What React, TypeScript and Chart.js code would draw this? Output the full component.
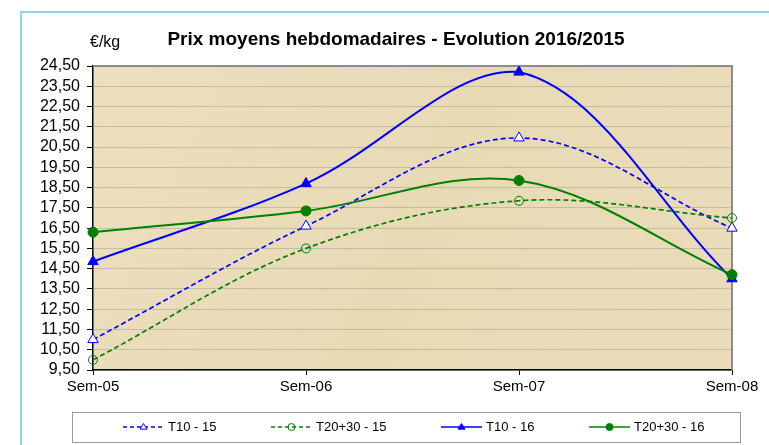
import React, { useEffect, useRef } from "react";
import { Chart, registerables } from "chart.js";

Chart.register(...registerables);

// ---- Data ----
const categories = ["Sem-05", "Sem-06", "Sem-07", "Sem-08"];
const seriesLabels = ["T10 - 15", "T20+30 - 15", "T10 - 16", "T20+30 - 16"];
const t10_15 = [11.0, 16.6, 20.95, 16.5];
const t2030_15 = [10.0, 15.5, 17.85, 17.0];
const t10_16 = [14.85, 18.7, 24.2, 14.0];
const t2030_16 = [16.3, 17.35, 18.85, 14.2];
const yMin = 9.5;
const yMax = 24.5;
const yStep = 1;
const chartTitle = "Prix moyens hebdomadaires - Evolution 2016/2015";
const unitLabel = "€/kg";

const BLUE = "#0000FF";
const GREEN = "#008000";
const FONT = 'Arial, "Liberation Sans", Helvetica, sans-serif';

type Style = { color: string; dashed: boolean; shape: "triangle" | "circle"; filled: boolean; radius: number };
const styles: Style[] = [
  { color: BLUE, dashed: true, shape: "triangle", filled: false, radius: 6 },
  { color: GREEN, dashed: true, shape: "circle", filled: false, radius: 4.5 },
  { color: BLUE, dashed: false, shape: "triangle", filled: true, radius: 6 },
  { color: GREEN, dashed: false, shape: "circle", filled: true, radius: 5 },
];

function drawMarker(ctx: CanvasRenderingContext2D, x: number, y: number, st: Style, r: number) {
  ctx.save();
  ctx.setLineDash([]);
  ctx.lineWidth = 1;
  ctx.strokeStyle = st.color;
  ctx.fillStyle = st.filled ? st.color : st.shape === "triangle" ? "#FFFFFF" : "rgba(0,0,0,0)";
  ctx.beginPath();
  if (st.shape === "circle") {
    ctx.arc(x, y, r, 0, Math.PI * 2);
  } else {
    const h = r * 1.6;
    ctx.moveTo(x, y - h * 0.62);
    ctx.lineTo(x + r, y + h * 0.38);
    ctx.lineTo(x - r, y + h * 0.38);
    ctx.closePath();
  }
  ctx.fill();
  ctx.stroke();
  ctx.restore();
}

const decorPlugin = {
  id: "decor",
  beforeDraw(chart: any) {
    const { ctx, chartArea: a, width, height } = chart;
    ctx.save();
    ctx.fillStyle = "#FFFFFF";
    ctx.fillRect(0, 0, width, height);
    // outer light-blue frame
    ctx.strokeStyle = "#8FD3F2";
    ctx.lineWidth = 2;
    ctx.beginPath();
    ctx.moveTo(21, height + 5);
    ctx.lineTo(21, 12);
    ctx.lineTo(width + 5, 12);
    ctx.stroke();
    // plot area background
    const g = ctx.createLinearGradient(a.left, a.top, a.right, a.bottom);
    g.addColorStop(0, "#ECDFBE");
    g.addColorStop(0.5, "#E9DAB6");
    g.addColorStop(1, "#EBDCB9");
    ctx.fillStyle = g;
    ctx.fillRect(a.left, a.top, a.right - a.left, a.bottom - a.top);
    ctx.restore();
  },
  beforeDatasetsDraw(chart: any) {
    const { ctx, chartArea: a } = chart;
    ctx.save();
    ctx.strokeStyle = "#8C8C8C";
    ctx.lineWidth = 2;
    ctx.beginPath();
    ctx.moveTo(a.left, a.top);
    ctx.lineTo(a.right, a.top);
    ctx.lineTo(a.right, a.bottom);
    ctx.stroke();
    ctx.restore();
  },
  afterDraw(chart: any) {
    const { ctx } = chart;
    ctx.save();
    // title
    ctx.fillStyle = "#000";
    ctx.font = `bold 19px ${FONT}`;
    ctx.textAlign = "center";
    ctx.textBaseline = "middle";
    ctx.fillText(chartTitle, 396, 40);
    // unit
    ctx.font = `16px ${FONT}`;
    ctx.textAlign = "left";
    ctx.fillText(unitLabel, 90, 43);
    // legend box
    ctx.fillStyle = "#FFFFFF";
    ctx.fillRect(72.5, 412.5, 668, 30);
    ctx.strokeStyle = "#9A9A9A";
    ctx.lineWidth = 1;
    ctx.strokeRect(72.5, 412.5, 668, 30);
    ctx.font = `13px ${FONT}`;
    ctx.textBaseline = "middle";
    const starts = [123, 271, 441, 589];
    const ly = 427;
    seriesLabels.forEach((lab, i) => {
      const st = styles[i];
      const x0 = starts[i];
      ctx.save();
      ctx.strokeStyle = st.color;
      ctx.lineWidth = 1.5;
      ctx.setLineDash(st.dashed ? [4, 3] : []);
      ctx.beginPath();
      ctx.moveTo(x0, ly);
      ctx.lineTo(x0 + 41, ly);
      ctx.stroke();
      ctx.restore();
      drawMarker(ctx, x0 + 20.5, ly, st, 3.5);
      ctx.fillStyle = "#000";
      ctx.fillText(lab, x0 + 45, ly);
    });
    ctx.restore();
  },
};

function fmt(v: number) {
  return v.toFixed(2).replace(".", ",");
}

export default function App() {
  const ref = useRef<HTMLCanvasElement | null>(null);
  useEffect(() => {
    if (!ref.current) return;
    const seriesData = [t10_15, t2030_15, t10_16, t2030_16];
    const datasets = seriesData.map((d, i) => {
      const st = styles[i];
      return {
        label: seriesLabels[i],
        data: d,
        borderColor: st.color,
        borderWidth: st.dashed ? 1.7 : 2,
        borderDash: st.dashed ? [5, 3] : [],
        pointStyle: st.shape,
        pointRadius: st.radius,
        pointBorderWidth: 1,
        pointBorderColor: st.color,
        pointBackgroundColor: st.filled ? st.color : st.shape === "triangle" ? "#FFFFFF" : "rgba(0,0,0,0)",
        tension: 0.35,
        fill: false,
        clip: false as any,
        order: 3 - i,
      };
    });
    const chart = new Chart(ref.current, {
      type: "line",
      data: { labels: categories, datasets },
      options: {
        responsive: false,
        animation: false,
        devicePixelRatio: 1,
        layout: { padding: { left: 33, top: 66, right: 37, bottom: 45 } },
        plugins: {
          legend: { display: false },
          title: { display: false },
          tooltip: { enabled: false },
        },
        scales: {
          x: {
            type: "category",
            offset: false,
            grid: { drawOnChartArea: false, drawTicks: true, tickLength: 5, tickColor: "#000" },
            border: { color: "#000", width: 1.5 },
            ticks: { color: "#000", font: { family: FONT, size: 15 }, padding: 3, maxRotation: 0, autoSkip: false },
            afterFit: (s: any) => {
              s.height = 30;
            },
          },
          y: {
            min: yMin,
            max: yMax,
            grid: { color: "rgba(130,130,130,0.35)", lineWidth: 1, tickLength: 6, tickColor: "#000" },
            border: { color: "#000", width: 1.5 },
            ticks: {
              stepSize: yStep,
              autoSkip: false,
              color: "#000",
              font: { family: FONT, size: 16 },
              padding: 7,
              callback: (v: any) => fmt(Number(v)),
            },
            afterFit: (s: any) => {
              s.width = 60;
            },
          },
        },
      },
      plugins: [decorPlugin],
    });
    return () => chart.destroy();
  }, []);
  return (
    <div style={{ position: "fixed", left: 0, top: 0, width: 769, height: 445, background: "#fff" }}>
      <canvas ref={ref} width={769} height={445} style={{ display: "block", width: 769, height: 445 }} />
    </div>
  );
}
